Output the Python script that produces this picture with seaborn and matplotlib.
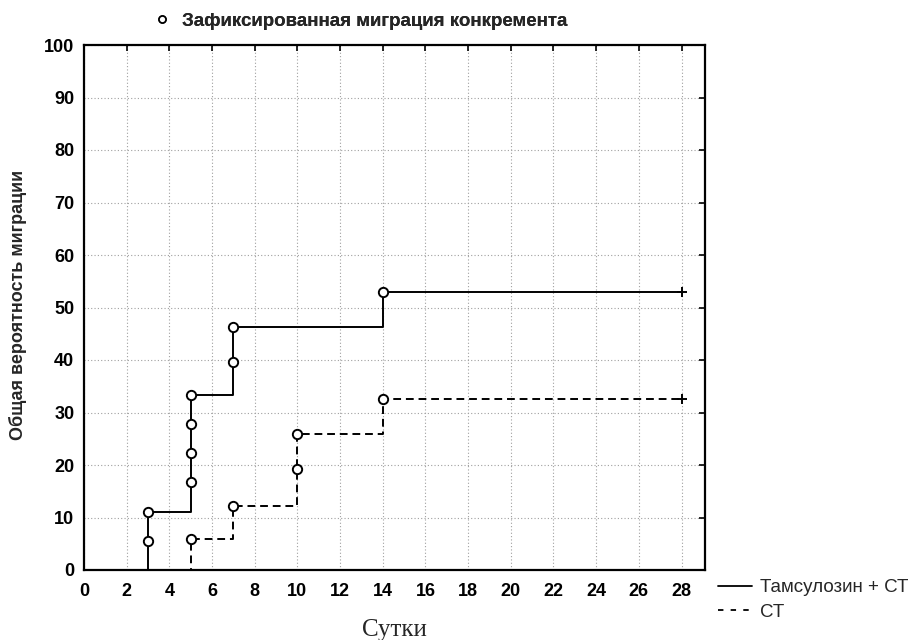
import matplotlib
matplotlib.use("Agg")
import matplotlib.pyplot as plt
import seaborn as sns
import pandas as pd
from matplotlib.lines import Line2D

sns.set_theme(style="white")
plt.rcParams['font.family'] = ['Liberation Sans', 'DejaVu Sans']

# Step curves (cumulative probability of migration, %)
tam_days = [0, 3, 5, 7, 14, 28]
tam_vals = [0, 11.1, 33.3, 46.3, 53.0, 53.0]
ct_days = [0, 5, 7, 10, 14, 28]
ct_vals = [0, 6.0, 12.2, 26.0, 32.6, 32.6]

# Observed migration events (circles)
tam_ev_days = [3, 3, 5, 5, 5, 5, 7, 7, 14]
tam_ev_vals = [5.6, 11.1, 16.7, 22.2, 27.8, 33.3, 39.7, 46.3, 53.0]
ct_ev_days = [5, 7, 10, 10, 14]
ct_ev_vals = [6.0, 12.2, 19.3, 26.0, 32.6]

# Censored (end of follow-up)
cens_days = [28, 28]
cens_vals = [53.0, 32.6]

xticks = list(range(0, 29, 2))
yticks = list(range(0, 101, 10))

fig = plt.figure(figsize=(9.17, 6.4), dpi=100)
ax = fig.add_axes([84 / 917, 70 / 640, 621 / 917, 525 / 640])

tam_df = pd.DataFrame({"x": tam_days, "y": tam_vals})
ct_df = pd.DataFrame({"x": ct_days, "y": ct_vals})

sns.lineplot(data=tam_df, x="x", y="y", ax=ax, color="black", lw=1.4,
             drawstyle="steps-post", estimator=None, sort=False, zorder=3)
sns.lineplot(data=ct_df, x="x", y="y", ax=ax, color="black", lw=1.4,
             drawstyle="steps-post", estimator=None, sort=False,
             linestyle=(0, (4, 2.5)), zorder=3)

ev = pd.DataFrame({"x": tam_ev_days + ct_ev_days, "y": tam_ev_vals + ct_ev_vals})
sns.scatterplot(data=ev, x="x", y="y", ax=ax, marker="o", s=45,
                facecolor="white", edgecolor="black", linewidth=1.4, zorder=4)
cdf = pd.DataFrame({"x": cens_days, "y": cens_vals})
sns.scatterplot(data=cdf, x="x", y="y", ax=ax, marker="+", s=60,
                color="black", linewidth=1.4, zorder=4)

ax.set_xlim(0, 29.1)
ax.set_ylim(0, 100)
ax.set_xticks(xticks)
ax.set_yticks(yticks)
ax.grid(True, color="#a0a0a0", linestyle=(0, (1, 2)), linewidth=0.8)
for s in ax.spines.values():
    s.set_color("black")
    s.set_linewidth(1.6)
ax.tick_params(direction="in", length=4, width=1.2, top=True, right=True,
               labelsize=13, colors="black")
ax.tick_params(axis="x", pad=9)
ax.tick_params(axis="y", pad=7)
for lab in ax.get_xticklabels() + ax.get_yticklabels():
    lab.set_fontweight("bold")

ax.set_xlabel("Сутки", family=["Liberation Serif", "DejaVu Serif"], fontsize=18, va="center")
ax.xaxis.set_label_coords(0.5, -0.114)
ax.set_ylabel("Общая вероятность миграции", fontsize=13, fontweight="bold", va="center")
ax.yaxis.set_label_coords(-0.106, 0.505)

# Top legend for circle marker
top_handle = [Line2D([], [], marker="o", color="black", markerfacecolor="white",
                     linestyle="none", markersize=5, markeredgewidth=1.2)]
leg1 = fig.legend(top_handle, ["Зафиксированная миграция конкремента"],
                  loc="center left", bbox_to_anchor=(152.6 / 917, 1 - 21 / 640),
                  frameon=False, borderpad=0, borderaxespad=0,
                  prop={"size": 13.5, "weight": "bold"},
                  handlelength=1.0, handletextpad=0.57)

# Series legend
handles = [Line2D([], [], color="black", lw=1.3),
           Line2D([], [], color="black", lw=1.3, linestyle=(0, (3, 4)))]
fig.legend(handles, ["Тамсулозин + СТ", "СТ"], loc="upper left",
           bbox_to_anchor=(718 / 917, 1 - 579 / 640), frameon=False,
           borderpad=0, borderaxespad=0,
           prop={"size": 13.5}, handlelength=1.81, labelspacing=0.4,
           handletextpad=0.43)
fig.add_artist(leg1)

fig.savefig("out.png", dpi=100)
